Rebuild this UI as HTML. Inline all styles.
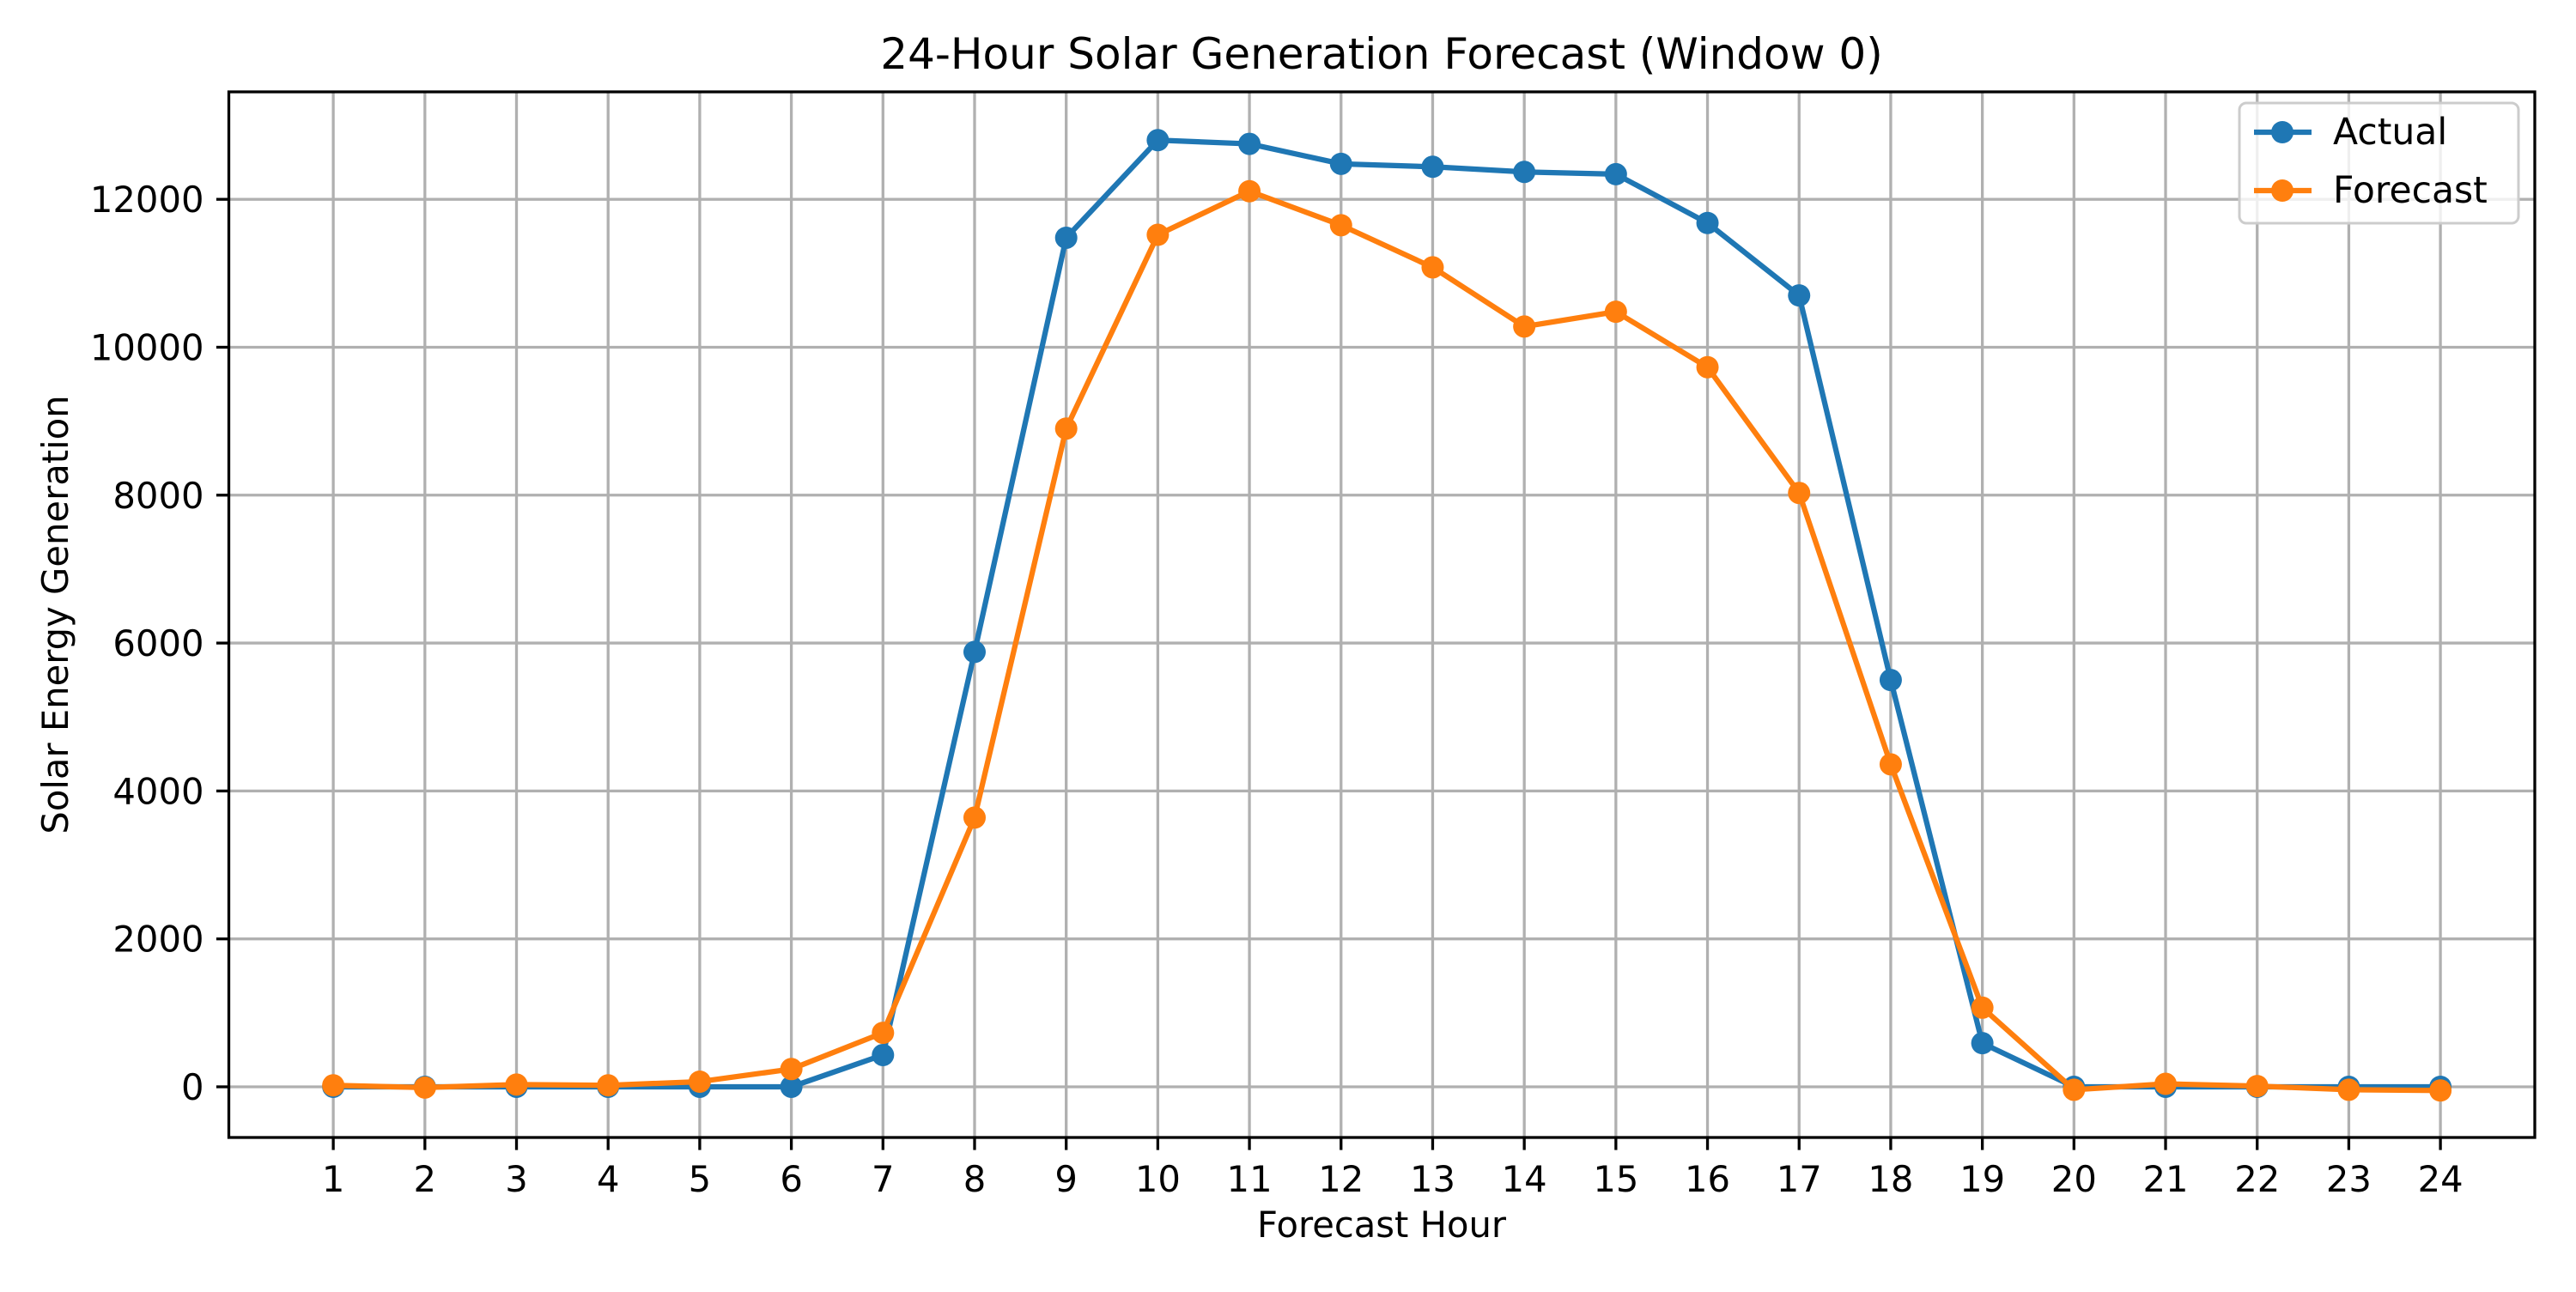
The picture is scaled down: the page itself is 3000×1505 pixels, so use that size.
<!DOCTYPE html>
<html><head><meta charset="utf-8"><style>
html,body{margin:0;padding:0;background:#fff;}
svg text{font-family:"DejaVu Sans","Liberation Sans",sans-serif;fill:#000;}
</style></head><body>
<svg id="chart" width="3000" height="1500" viewBox="0 0 3000 1500" xmlns="http://www.w3.org/2000/svg">
<rect width="3000" height="1500" fill="#fff"/>
<g id="grid"></g>
<g id="ticks"></g>
<g id="series"></g>
<rect x="266.5" y="107" width="2685.5" height="1218" fill="none" stroke="#000" stroke-width="3.3"/>
<text x="1609" y="80" font-size="50" text-anchor="middle">24-Hour Solar Generation Forecast (Window 0)</text>
<text x="1609" y="1441" font-size="41.7" text-anchor="middle">Forecast Hour</text>
<text transform="translate(79,716) rotate(-90)" font-size="41.7" text-anchor="middle">Solar Energy Generation</text>
<g>
<rect x="2608" y="120" width="325" height="140" rx="8" fill="#fff" fill-opacity="0.8" stroke="#ccc" stroke-width="3"/>
<g>
<line x1="2625" y1="154" x2="2692" y2="154" stroke="#1f77b4" stroke-width="6.25"/>
<circle cx="2658" cy="154" r="13" fill="#1f77b4"/>
<text x="2717" y="168" font-size="42.5">Actual</text></g>
<g>
<line x1="2625" y1="222" x2="2692" y2="222" stroke="#ff7f0e" stroke-width="6.25"/>
<circle cx="2658" cy="222" r="13" fill="#ff7f0e"/>
<text x="2717" y="236" font-size="42.5">Forecast</text></g>
</g>
</svg>
<script>
const hours = [1,2,3,4,5,6,7,8,9,10,11,12,13,14,15,16,17,18,19,20,21,22,23,24];
const actual = [0,0,0,0,0,0,430,5880,11480,12800,12750,12480,12440,12370,12340,11680,10700,5500,590,0,0,0,0,0];
const forecast = [20,-10,30,20,70,240,730,3640,8900,11520,12110,11650,11080,10280,10480,9730,8030,4360,1070,-40,40,10,-40,-50];
const yTicks = [0,2000,4000,6000,8000,10000,12000];

const NS='http://www.w3.org/2000/svg';
const X0=266.5, X1=2952, Y0=107, Y1=1325;
const xMin=-0.14, xMax=25.03, yMin=-685, yMax=13453;
function xs(v){return X0+(v-xMin)/(xMax-xMin)*(X1-X0);}
function ys(v){return Y1-(v-yMin)/(yMax-yMin)*(Y1-Y0);}
function mk(tag,attrs,parent){const e=document.createElementNS(NS,tag);for(const k in attrs)e.setAttribute(k,attrs[k]);parent.appendChild(e);return e;}
const grid=document.getElementById('grid'), ticks=document.getElementById('ticks'), series=document.getElementById('series');
hours.forEach(h=>{
  const x=xs(h);
  const g=mk('line',{x1:x,y1:Y0,x2:x,y2:Y1,stroke:'#b0b0b0','stroke-width':3.3},grid);
  
  
  const t=mk('line',{x1:x,y1:Y1,x2:x,y2:Y1+14.6,stroke:'#000','stroke-width':3.3},ticks);
  
  
  const l=mk('text',{x:x,y:Y1+63,'font-size':41.7,'text-anchor':'middle'},ticks);
  l.textContent=h;
  
  
});
yTicks.forEach(v=>{
  const y=ys(v);
  const g=mk('line',{x1:X0,y1:y,x2:X1,y2:y,stroke:'#b0b0b0','stroke-width':3.3},grid);
  
  
  const t=mk('line',{x1:X0-14.6,y1:y,x2:X0,y2:y,stroke:'#000','stroke-width':3.3},ticks);
  
  
  const l=mk('text',{x:X0-29,y:y+15,'font-size':41.7,'text-anchor':'end'},ticks);
  l.textContent=v;
  
  
});
function drawSeries(vals,color,name){
  const g=mk('g',{},series);
  
  
  const pts=vals.map((v,i)=>xs(hours[i])+','+ys(v)).join(' ');
  const pl=mk('polyline',{points:pts,fill:'none',stroke:color,'stroke-width':6.25,'stroke-linejoin':'round'},g);
  
  
  vals.forEach((v,i)=>{
    const c=mk('circle',{cx:xs(hours[i]),cy:ys(v),r:13,fill:color},g);
    
    
  });
}
drawSeries(actual,'#1f77b4','actual');
drawSeries(forecast,'#ff7f0e','forecast');
</script>
</body></html>
